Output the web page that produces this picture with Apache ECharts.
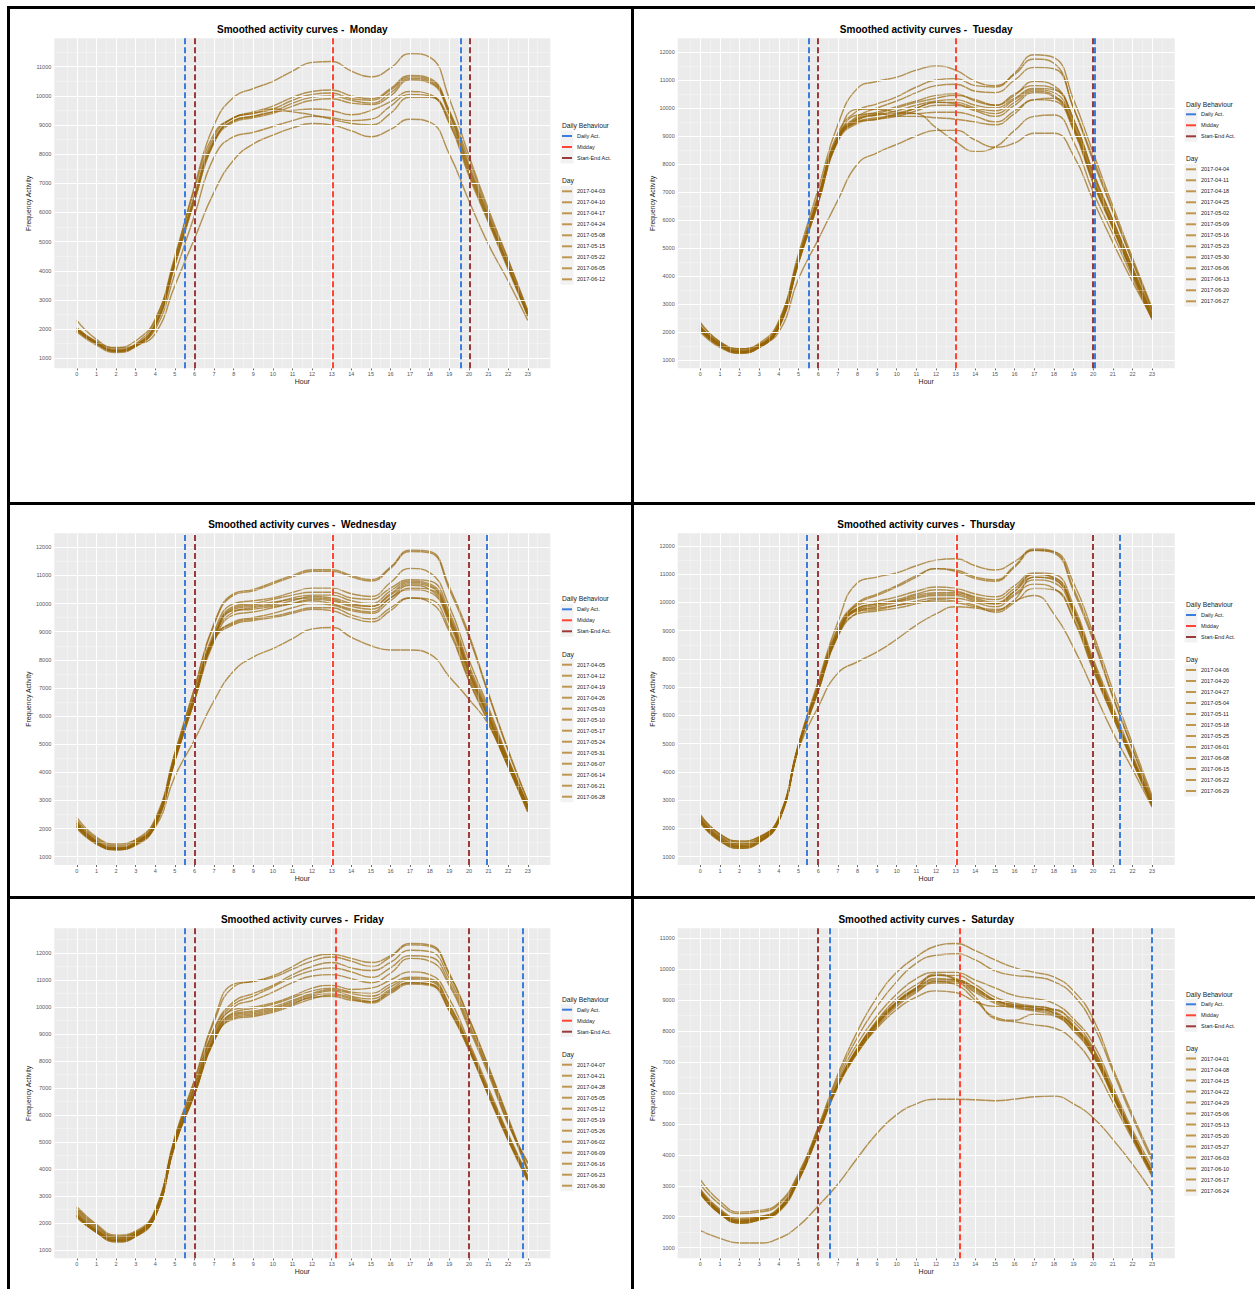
<!DOCTYPE html>
<html><head><meta charset="utf-8">
<script src="https://cdn.jsdelivr.net/npm/echarts@6/dist/echarts.min.js"></script>
<style>html,body{margin:0;padding:0;background:#fff}#c{width:1255px;height:1289px}</style>
</head><body><div id="c"></div>
<script>
// ---------------- DATA ----------------
const hours = [0,1,2,3,4,5,6,7,8,9,10,11,12,13,14,15,16,17,18,19,20,21,22,23];
const dayNames = ['Monday','Tuesday','Wednesday','Thursday','Friday','Saturday'];
const behaviourNames = ['Daily Act.','Midday','Start-End Act.'];

const yTicks11 = [1000,2000,3000,4000,5000,6000,7000,8000,9000,10000,11000];
const yTicks12 = [1000,2000,3000,4000,5000,6000,7000,8000,9000,10000,11000,12000];

const mondayDates = ['2017-04-03','2017-04-10','2017-04-17','2017-04-24','2017-05-08','2017-05-15','2017-05-22','2017-06-05','2017-06-12'];
const mondayCurves = [
 [2050,1580,1370,1600,2350,4400,6900,9000,9950,10250,10500,10850,11150,11180,10850,10650,10950,11450,11330,9900,7950,6100,4400,2650],
 [2000,1550,1280,1500,2300,4500,6800,8700,9250,9450,9650,9950,10150,10200,10000,9900,10250,10700,10600,9500,7800,6000,4350,2600],
 [1950,1500,1230,1450,2200,4400,6600,8600,9250,9400,9550,9850,10050,10100,9900,9850,10200,10650,10550,9450,7650,5900,4250,2550],
 [2000,1500,1250,1450,2150,4300,6500,8500,9150,9300,9450,9750,9950,10000,9850,9750,10100,10600,10500,9400,7550,5850,4200,2500],
 [1900,1450,1200,1400,2100,4200,6400,8400,9100,9250,9400,9650,9850,9900,9750,9700,10000,10550,10450,9350,7500,5800,4150,2450],
 [2000,1520,1250,1450,2150,4300,6500,8450,9150,9300,9450,9500,9550,9500,9350,9500,9800,10150,10050,9200,7400,5750,4150,2500],
 [1950,1500,1250,1400,2100,4200,6400,8400,9250,9400,9550,9450,9350,9200,9050,9000,9400,9950,9950,9050,7250,5650,4050,2450],
 [2050,1550,1300,1450,2000,3900,5900,7900,8600,8750,8950,9150,9300,9250,9150,9200,9650,10050,10000,9100,7350,5700,4100,2500],
 [2300,1650,1350,1450,1850,3500,5100,6700,7800,8350,8650,8900,9050,9000,8800,8600,8850,9200,9100,8000,6400,4900,3650,2300]
];

const tuesdayDates = ['2017-04-04','2017-04-11','2017-04-18','2017-04-25','2017-05-02','2017-05-09','2017-05-16','2017-05-23','2017-05-30','2017-06-06','2017-06-13','2017-06-20','2017-06-27'];
const tuesdayCurves = [
 [2300,1650,1400,1600,2400,4800,7100,9400,10700,10950,11100,11350,11500,11350,10950,10800,11200,11750,11600,10000,8100,6300,4500,2750],
 [2200,1600,1350,1550,2350,4700,6900,9100,9900,10150,10400,10750,11000,11050,10800,10750,11250,11900,11800,10300,8400,6500,4650,2850],
 [2150,1550,1300,1500,2300,4600,6800,9000,9700,10000,10250,10550,10800,10850,10600,10550,11000,11450,11400,10000,8200,6350,4550,2800],
 [2100,1550,1300,1500,2250,4600,6800,8950,9650,9850,10050,10250,10450,10500,10250,10100,10450,10950,10800,9600,7700,6000,4300,2650],
 [2050,1500,1250,1450,2200,4500,6700,8900,9600,9750,9900,10100,10250,10300,10100,10000,10350,10700,10650,9500,7600,5950,4250,2600],
 [2000,1450,1250,1450,2150,4500,6600,8850,9500,9600,9800,10000,10200,10200,10000,9900,10300,10650,10550,9400,7500,5850,4200,2550],
 [2100,1500,1300,1450,2200,4550,6700,8850,9500,9650,9750,10000,10200,10150,9950,9800,10200,10600,10450,9350,7400,5800,4150,2500],
 [2050,1500,1250,1450,2150,4450,6600,8800,9450,9600,9700,9900,10100,10100,9900,9700,10100,10550,10400,9300,7350,5750,4100,2500],
 [2150,1550,1300,1500,2250,4600,6750,8900,9550,9750,9800,9800,9850,9850,9700,9500,9900,10300,10350,9250,7400,5750,4100,2500],
 [2100,1500,1300,1450,2200,4500,6650,8850,9750,9800,9700,9700,9650,9600,9500,9400,9800,10300,10250,9200,7300,5700,4050,2450],
 [2200,1550,1300,1500,2250,4600,6750,8950,9950,9950,9850,9800,9300,8800,8450,8600,9200,9700,9750,8800,7000,5500,3950,2450],
 [2350,1650,1400,1550,2000,3900,5300,6700,8000,8400,8700,9000,9200,9200,8850,8600,8750,9100,9100,8300,6700,5200,3800,2500],
 [2200,1600,1350,1500,2250,4550,6800,8900,9600,9800,10000,10200,10350,10450,10300,10100,10500,10800,10700,9600,7700,6000,4300,2650]
];

const wednesdayDates = ['2017-04-05','2017-04-12','2017-04-19','2017-04-26','2017-05-03','2017-05-10','2017-05-17','2017-05-24','2017-05-31','2017-06-07','2017-06-14','2017-06-21','2017-06-28'];
const wednesdayCurves = [
 [2300,1650,1400,1600,2350,4700,7000,9300,10350,10500,10750,11000,11200,11200,11000,10850,11300,11900,11850,10600,8900,6800,4800,3000],
 [2250,1600,1350,1550,2300,4650,6950,9250,10300,10450,10700,10950,11150,11150,10950,10800,11250,11850,11800,10500,8800,6750,4750,2950],
 [2200,1550,1300,1500,2250,4600,6800,9000,10000,10100,10200,10400,10550,10550,10350,10250,10750,11250,11100,9900,8000,6300,4500,2850],
 [2150,1550,1300,1500,2200,4550,6750,8900,9900,10000,10150,10300,10400,10400,10200,10150,10550,10850,10800,9700,7800,6200,4450,2800],
 [2100,1500,1250,1450,2200,4500,6700,8850,9800,9900,10000,10200,10300,10300,10100,10000,10450,10800,10700,9600,7700,6100,4400,2800],
 [2050,1500,1250,1450,2150,4500,6650,8800,9700,9850,9950,10100,10250,10200,10000,9900,10300,10700,10600,9500,7600,6000,4350,2750],
 [2100,1500,1300,1450,2150,4450,6600,8750,9750,9800,9900,10000,10100,10000,9800,9700,10200,10500,10400,9300,7400,5900,4250,2700],
 [2000,1450,1250,1450,2100,4400,6550,8700,9350,9500,9650,9850,10000,9950,9750,9650,10100,10550,10500,9400,7550,5950,4300,2700],
 [2200,1550,1300,1500,2200,4500,6700,8800,9300,9450,9550,9700,9850,9850,9600,9450,9850,10200,10150,9100,7300,5800,4200,2650],
 [2150,1500,1300,1450,2150,4450,6600,8700,9250,9400,9500,9650,9800,9750,9500,9350,9750,10200,10050,9000,7250,5750,4200,2600],
 [2050,1450,1250,1400,2100,4400,6550,8650,9600,9700,9850,10000,10150,10100,9900,9800,10200,10650,10500,9400,7500,5950,4300,2750],
 [2100,1500,1250,1450,2150,4450,6650,8800,9850,9950,10050,10150,10200,10150,9950,9900,10350,10750,10650,9500,7650,6050,4400,2800],
 [2400,1700,1450,1600,2050,3850,5150,6550,7600,8100,8400,8750,9100,9150,8800,8500,8350,8350,8200,7400,6600,5700,4200,2600]
];

const thursdayDates = ['2017-04-06','2017-04-20','2017-04-27','2017-05-04','2017-05-11','2017-05-18','2017-05-25','2017-06-01','2017-06-08','2017-06-15','2017-06-22','2017-06-29'];
const thursdayCurves = [
 [2450,1800,1550,1700,2400,5000,7200,9300,10700,10900,11050,11300,11500,11550,11300,11150,11450,11850,11800,10700,8900,6900,5000,3150],
 [2350,1700,1450,1650,2350,4950,7100,9100,10000,10300,10600,10950,11200,11150,10900,10800,11300,11900,11800,10500,8750,6700,4850,3050],
 [2300,1650,1400,1600,2350,4950,7050,9050,9950,10250,10550,10900,11200,11100,10850,10750,11250,11850,11750,10400,8650,6650,4800,3000],
 [2250,1600,1350,1550,2300,4900,7000,8950,9900,10050,10200,10400,10550,10500,10300,10200,10600,11050,11000,9900,8000,6300,4600,2950],
 [2200,1550,1300,1500,2250,4850,6950,8900,9800,9950,10100,10300,10450,10400,10200,10100,10500,11000,10900,9800,7900,6200,4500,2900],
 [2300,1600,1350,1550,2300,4900,6900,8850,9750,9900,10050,10250,10350,10350,10150,10000,10400,10900,10850,9700,7800,6100,4450,2850],
 [2200,1550,1300,1500,2250,4850,6850,8800,9650,9850,10000,10150,10250,10250,10050,9950,10300,10800,10700,9600,7700,6000,4400,2800],
 [2250,1600,1350,1550,2300,4900,6900,8850,9700,9750,9900,10050,10150,10150,10000,9850,10250,10650,10500,9400,7600,5950,4350,2800],
 [2350,1700,1450,1600,2300,4850,6850,8850,9600,9700,9800,9950,10100,10050,9900,9650,10000,10500,10450,9450,7650,6000,4400,2850],
 [2400,1750,1500,1650,2350,4950,7000,8950,9750,9800,9900,10000,10050,10000,9850,9750,10100,10900,10800,9700,7800,6100,4500,2900],
 [2500,1800,1550,1700,2350,4800,6300,7500,7900,8250,8700,9200,9600,9850,9800,9700,10050,10250,9600,8400,6900,5400,4100,2750],
 [2300,1650,1400,1550,2300,4900,7000,8900,9800,9950,10050,10200,10300,10300,10100,9950,10400,11000,10850,9750,7850,6150,4500,2900]
];

const fridayDates = ['2017-04-07','2017-04-21','2017-04-28','2017-05-05','2017-05-12','2017-05-19','2017-05-26','2017-06-02','2017-06-09','2017-06-16','2017-06-23','2017-06-30'];
const fridayCurves = [
 [2600,1950,1550,1700,2500,5200,7300,9550,10850,10950,11150,11500,11850,11950,11800,11650,11900,12350,12300,11250,9600,7800,5900,4000],
 [2550,1900,1500,1650,2450,5150,7250,9450,10750,10950,11100,11400,11700,11850,11700,11500,11850,12300,12250,11200,9550,7750,5850,3950],
 [2500,1850,1500,1650,2450,5100,7100,9200,10200,10500,10800,11200,11500,11650,11450,11350,11650,12100,12050,11050,9400,7650,5750,3900],
 [2450,1800,1450,1600,2400,5050,7050,9150,10100,10400,10750,11100,11350,11450,11300,11100,11450,11900,11850,10900,9300,7600,5700,4250],
 [2400,1750,1450,1600,2400,5050,7000,9050,10000,10250,10550,10900,11150,11200,11050,10900,11250,11800,11700,10800,9200,7500,5650,4200],
 [2350,1750,1400,1600,2350,5000,6900,8950,9900,10000,10150,10400,10700,10800,10650,10700,11000,11300,11200,10300,8700,7000,5300,3750],
 [2300,1700,1400,1550,2300,4950,6850,8900,9800,9950,10100,10350,10600,10700,10550,10500,10850,11100,11050,10100,8600,6900,5250,3700],
 [2250,1700,1350,1550,2300,4950,6800,8850,9750,9850,10000,10250,10500,10650,10500,10400,10750,11050,11000,10050,8550,6850,5200,3650],
 [2250,1650,1350,1500,2250,4900,6800,8800,9700,9800,9950,10200,10450,10600,10400,10300,10650,11000,10950,10000,8500,6800,5150,3650],
 [2200,1650,1300,1500,2250,4900,6750,8750,9600,9700,9850,10100,10400,10500,10350,10200,10550,10900,10850,9900,8450,6750,5100,3600],
 [2300,1700,1350,1550,2300,4950,6800,8800,9550,9650,9800,10050,10300,10450,10300,10150,10500,10850,10800,9850,8400,6700,5050,3550],
 [2250,1650,1300,1500,2250,4900,6750,8750,9650,9750,9900,10150,10350,10400,10250,10200,10600,10900,10850,9900,8450,6750,5100,3600]
];

const saturdayDates = ['2017-04-01','2017-04-08','2017-04-15','2017-04-22','2017-04-29','2017-05-06','2017-05-13','2017-05-20','2017-05-27','2017-06-03','2017-06-10','2017-06-17','2017-06-24'];
const saturdayCurves = [
 [3200,2500,2150,2200,2450,3400,4900,6600,8000,9100,9900,10400,10750,10830,10600,10300,10050,9900,9750,9300,8400,6800,5300,3900],
 [3050,2400,2100,2150,2400,3350,4850,6500,7800,8800,9600,10200,10450,10500,10300,9950,9800,9750,9600,9150,8200,6700,5200,3800],
 [2900,2250,1950,2000,2300,3300,4800,6400,7600,8500,9200,9700,9900,9900,9650,9400,9150,9050,8900,8400,7600,6200,4800,3600],
 [2850,2200,1900,1950,2250,3250,4750,6300,7450,8350,9050,9500,9800,9800,9500,9100,8900,8800,8700,8300,7450,6100,4700,3500],
 [2800,2150,1850,1950,2200,3200,4700,6300,7450,8300,8950,9400,9850,9700,9400,9000,8800,8700,8700,8200,7400,6050,4700,3400],
 [2800,2150,1850,1950,2250,3250,4750,6300,7400,8300,8950,9400,9650,9650,9400,9000,8850,8750,8600,8150,7300,6000,4650,3450],
 [2750,2100,1800,1900,2200,3200,4700,6250,7350,8200,8900,9350,9600,9600,9350,8950,8800,8700,8550,8100,7250,5950,4600,3400],
 [2800,2150,1850,1950,2200,3200,4700,6250,7400,8250,8850,9300,9550,9550,9250,8900,8750,8650,8500,8050,7200,5900,4550,3350],
 [2750,2100,1800,1900,2150,3150,4650,6200,7300,8150,8800,9250,9600,9500,9000,8450,8350,8550,8500,8000,7200,5900,4600,3400],
 [2850,2200,1900,2000,2250,3250,4750,6300,7350,8200,8900,9400,9800,9650,9100,8400,8300,8200,8100,7700,6900,5700,4500,3300],
 [2800,2150,1850,1950,2200,3200,4700,6250,7300,8100,8700,9100,9300,9250,8950,8800,8800,8800,8650,8150,7300,6000,4650,3450],
 [2750,2100,1800,1900,2200,3200,4700,6250,7400,8250,8900,9350,9700,9650,9300,9000,8850,8750,8600,8150,7350,6000,4650,3400],
 [1550,1300,1150,1150,1300,1700,2350,3050,3900,4700,5300,5650,5800,5800,5780,5750,5800,5880,5900,5650,5200,4500,3700,2800]
];

// vertical reference lines (hour positions) per panel, Monday..Saturday
const dailyActHours = [[5.5,19.58],[5.5,20.1],[5.5,20.93],[5.42,21.33],[5.5,22.73],[6.58,23.0]];
const middayHours = [[13.05],[13.0],[13.04],[13.06],[13.2],[13.19]];
const startEndHours = [[6.0,20.02],[6.0,20.0],[6.02,20.0],[6.0,20.0],[6.0,20.0],[5.98,20.0]];

// axis ranges
const yRanges = [[657,11974],[704,12489],[705,12498],[706,12450],[693,12915],[657,11323]];
const yTickSets = [yTicks11,yTicks12,yTicks12,yTicks12,yTicks12,yTicks11];
const xRange = [-1.15,24.15];

// ---------------- LAYOUT / STYLE ----------------
const FONT = '"Liberation Sans", Arial, Helvetica, sans-serif';
const curveColor = 'rgba(150,100,6,0.68)';
const behaviourColors = ['#3b7ddd','#ff4433','#9b3a3a'];
const layouts = [
 {left:54.3, top:38.3, width:496, height:330, lx:562, h1:125, i1:136, h2:180.7, i2:191.3, ty:29},
 {left:677.7, top:38.3, width:497, height:330, lx:1186, h1:104, i1:114.3, h2:158.5, i2:169.3, ty:29},
 {left:54.3, top:533.3, width:496, height:331.7, lx:562, h1:598.7, i1:609.3, h2:654, i2:664.7, ty:524.7},
 {left:677.7, top:533.3, width:497, height:331.7, lx:1186, h1:604.3, i1:615, h2:659.3, i2:670, ty:524.7},
 {left:54.3, top:928.3, width:496, height:330, lx:562, h1:999.3, i1:1009.7, h2:1054.3, i2:1064.7, ty:919.7},
 {left:677.7, top:928.3, width:497, height:330, lx:1186, h1:994, i1:1004.3, h2:1048, i2:1058.5, ty:919.7}
];
const datesAll = [mondayDates,tuesdayDates,wednesdayDates,thursdayDates,fridayDates,saturdayDates];
const curvesAll = [mondayCurves,tuesdayCurves,wednesdayCurves,thursdayCurves,fridayCurves,saturdayCurves];

const grids=[], xAxes=[], yAxes=[], series=[], legends=[], graphics=[];
const ROW = 11;

layouts.forEach((L,i)=>{
  grids.push({left:L.left, top:L.top, width:L.width, height:L.height, show:true, backgroundColor:'#ebebeb', borderWidth:0, containLabel:false});
  xAxes.push({gridIndex:i, type:'value', min:xRange[0], max:xRange[1],
    axisLine:{show:false},
    axisTick:{show:true, customValues:hours, length:2, lineStyle:{color:'#444', width:0.8}},
    axisLabel:{customValues:hours, fontSize:5.5, color:'#555', margin:3, fontFamily:FONT, formatter:v=>String(v)},
    splitLine:{show:false},
    name:'Hour', nameLocation:'middle', nameGap:10, nameTextStyle:{fontSize:7, color:'#1a1a1a', fontFamily:FONT}});
  const yr = yRanges[i];
  yAxes.push({gridIndex:i, type:'value', min:yr[0], max:yr[1],
    axisLine:{show:false},
    axisTick:{show:true, customValues:yTickSets[i], length:2, lineStyle:{color:'#444', width:0.8}},
    axisLabel:{customValues:yTickSets[i], fontSize:5.5, color:'#555', margin:3, fontFamily:FONT, formatter:v=>String(v)},
    splitLine:{show:false},
    name:'Frequency Activity', nameLocation:'middle', nameGap:22, nameRotate:90,
    nameTextStyle:{fontSize:6.8, color:'#1a1a1a', fontFamily:FONT}});

  // background grid lines (major + minor)
  const gl = [];
  hours.forEach(h=>gl.push({xAxis:h, lineStyle:{color:'#ffffff', width:1, type:'solid'}}));
  for (let h=-0.5; h<=23.5; h+=1) gl.push({xAxis:h, lineStyle:{color:'rgba(255,255,255,0.55)', width:0.6, type:'solid'}});
  yTickSets[i].forEach(v=>gl.push({yAxis:v, lineStyle:{color:'#ffffff', width:1, type:'solid'}}));
  for (let v=500; v<=13000; v+=1000) if (v>yr[0] && v<yr[1]) gl.push({yAxis:v, lineStyle:{color:'rgba(255,255,255,0.55)', width:0.6, type:'solid'}});
  series.push({type:'line', name:'_grid'+i, xAxisIndex:i, yAxisIndex:i, data:[], silent:true, z:1,
    markLine:{silent:true, symbol:['none','none'], animation:false, label:{show:false}, emphasis:{disabled:true}, data:gl}});

  // day curves
  datesAll[i].forEach((d,k)=>{
    const vals = curvesAll[i][k];
    series.push({type:'line', name:d, xAxisIndex:i, yAxisIndex:i,
      data: hours.map((h,j)=>[h, vals[j]]), smooth:0.5, showSymbol:false, symbol:'none',
      lineStyle:{color:curveColor, width:1.4}, itemStyle:{color:'rgba(190,150,80,1)'}, z:2,
      animation:false, emphasis:{disabled:true}, silent:true});
  });

  // vertical behaviour lines
  const vl = [dailyActHours[i], middayHours[i], startEndHours[i]];
  behaviourNames.forEach((bn,b)=>{
    series.push({type:'line', name:bn, xAxisIndex:i, yAxisIndex:i, data:[], z:3,
      itemStyle:{color:behaviourColors[b]}, lineStyle:{color:behaviourColors[b]},
      markLine:{silent:true, symbol:['none','none'], animation:false, label:{show:false}, emphasis:{disabled:true},
        lineStyle:{color:behaviourColors[b], width:2, type:[6,3]},
        data: vl[b].map(h=>({xAxis:h}))}});
  });

  // legend key backgrounds (grey95 boxes)
  graphics.push({type:'rect', z:0, silent:true, shape:{x:L.lx-1.5, y:L.i1-ROW/2, width:13, height:ROW*3}, style:{fill:'#f2f2f2'}});
  graphics.push({type:'rect', z:0, silent:true, shape:{x:L.lx-1.5, y:L.i2-ROW/2, width:13, height:ROW*datesAll[i].length}, style:{fill:'#f2f2f2'}});

  // legends
  legends.push({orient:'vertical', left:L.lx, top:L.i1-3, padding:0, itemWidth:10, itemHeight:2, icon:'rect', itemGap:ROW-6,
    selectedMode:false, data:behaviourNames, z:5,
    textStyle:{fontSize:5.5, color:'#1a1a1a', lineHeight:6, fontFamily:FONT}});
  legends.push({orient:'vertical', left:L.lx, top:L.i2-3, padding:0, itemWidth:10, itemHeight:2, icon:'rect', itemGap:ROW-6,
    selectedMode:false, data:datesAll[i], z:5,
    textStyle:{fontSize:5.5, color:'#1a1a1a', lineHeight:6, fontFamily:FONT}});

  // titles and legend headers
  graphics.push({type:'text', x:L.left+L.width/2, y:L.ty, z:10,
    style:{text:'Smoothed activity curves -  '+dayNames[i], font:'bold 10px '+FONT, fill:'#000',
      align:'center', verticalAlign:'middle', textAlign:'center', textVerticalAlign:'middle'}});
  graphics.push({type:'text', x:L.lx, y:L.h1, z:10,
    style:{text:'Daily Behaviour', font:'6.7px '+FONT, fill:'#1a1a1a', align:'left', verticalAlign:'middle', textAlign:'left', textVerticalAlign:'middle'}});
  graphics.push({type:'text', x:L.lx, y:L.h2, z:10,
    style:{text:'Day', font:'6.7px '+FONT, fill:'#1a1a1a', align:'left', verticalAlign:'middle', textAlign:'left', textVerticalAlign:'middle'}});
});

// panel frame (black separators)
const frame = [[7,6,3,1283],[7,6,1248,3],[631,6,3,1283],[7,502,1248,3],[7,896,1248,3]];
frame.forEach(f=>graphics.push({type:'rect', shape:{x:f[0], y:f[1], width:f[2], height:f[3]}, style:{fill:'#000'}, z:20, silent:true}));

const chart = echarts.init(document.getElementById('c'), null, {renderer:'svg'});
chart.setOption({
  animation:false,
  backgroundColor:'#ffffff',
  textStyle:{fontFamily:FONT},
  grid:grids, xAxis:xAxes, yAxis:yAxes, series:series, legend:legends, graphic:graphics
});
</script></body></html>
